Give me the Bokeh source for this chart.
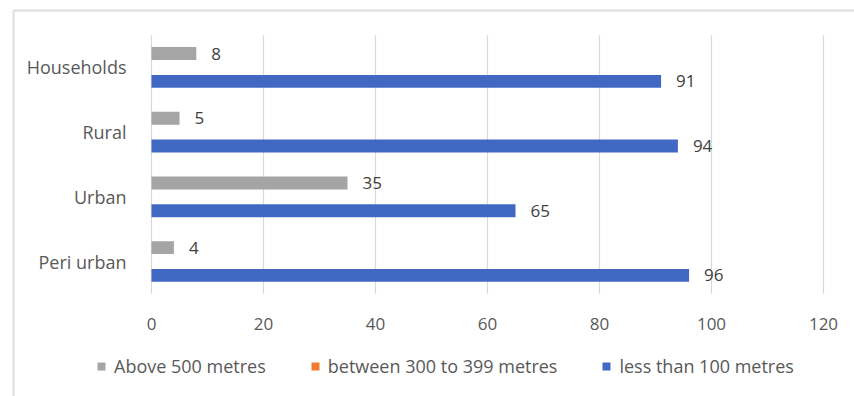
from bokeh.plotting import figure
from bokeh.models import ColumnDataSource, Range1d, Legend, LegendItem
from bokeh.core.properties import value
from bokeh.embed import file_html
from bokeh.resources import INLINE

# Distance to water source by area type (%)
categories = ["Households", "Rural", "Urban", "Peri urban"]
above_500 = [8, 5, 35, 4]
between_300_399 = [0, 0, 0, 0]
less_than_100 = [91, 94, 65, 96]
series_names = ["Above 500 metres", "between 300 to 399 metres", "less than 100 metres"]
x_ticks = [0, 20, 40, 60, 80, 100, 120]

colors = ["#A5A5A5", "#ED7D31", "#4169C4"]
FONT = "Open Sans"
TEXT = "#595959"
W, H = 854, 396

# Layout of the plotting area on the canvas (pixels)
X_ZERO_PX, X_MAX_PX, X_MAX = 151, 823, 120
PX_PER_X = (X_MAX_PX - X_ZERO_PX) / X_MAX
ROW_PX = 64.67               # height of one category band
BOTTOM_ROW_CENTER_PX = 261   # centre of the lowest category band


def xd(px):
    return (px - X_ZERO_PX) / PX_PER_X


def yd(py):
    return (BOTTOM_ROW_CENTER_PX - py) / ROW_PX


# categories listed top to bottom -> band index counts up from the bottom
pos = [len(categories) - 1 - i for i in range(len(categories))]
BAR_OFF = 0.215
BAR_H = 0.2

src = ColumnDataSource(dict(
    cat=categories, pos=pos,
    a=above_500, b=between_300_399, c=less_than_100,
    a_y=[v + BAR_OFF for v in pos],
    b_y=pos,
    c_y=[v - BAR_OFF for v in pos],
    a_lbl=[str(v) for v in above_500],
    c_lbl=[str(v) for v in less_than_100],
))

p = figure(
    width=W, height=H,
    x_range=Range1d(xd(0), xd(W)), y_range=Range1d(yd(H), yd(0)),
    x_axis_location=None, y_axis_location=None,
    output_backend="svg", toolbar_location=None,
    min_border=0,
)
p.grid.visible = False
p.outline_line_color = None
p.background_fill_color = "white"
p.border_fill_color = "white"

# chart-area frame (top and left edges)
p.segment(x0=[xd(13), xd(13)], y0=[yd(10), yd(10)], x1=[xd(13), xd(W + 5)], y1=[yd(H + 5), yd(10)],
          line_color="#dedede", line_width=2)

# vertical gridlines across the category bands
lo, hi = -0.5, len(categories) - 0.5
p.segment(x0=x_ticks, x1=x_ticks, y0=[lo] * len(x_ticks), y1=[hi] * len(x_ticks),
          line_color="#d9d9d9", line_width=1.2)

# x tick labels
p.text(x=x_ticks, y=[yd(323)] * len(x_ticks), text=[str(t) for t in x_ticks],
       text_align="center", text_baseline="middle",
       text_font=value(FONT), text_font_size="17px", text_color=TEXT)

# category labels
p.text(x=xd(126), y="pos", text="cat", source=src,
       text_align="right", text_baseline="middle",
       text_font=value(FONT), text_font_size="18px", text_color=TEXT)

renderers = []
for f, yf, col in zip(["a", "b", "c"], ["a_y", "b_y", "c_y"], colors):
    r = p.hbar(y=yf, left=0, right=f, height=BAR_H, color=col, line_color=None, source=src)
    renderers.append(r)

# value labels
for f, yf, lbl in [("a", "a_y", "a_lbl"), ("c", "c_y", "c_lbl")]:
    p.text(x=f, y=yf, text=lbl, source=src, x_offset=15,
           text_align="left", text_baseline="middle",
           text_font=value(FONT), text_font_size="17px", text_color="#404040")

legend = Legend(
    items=[LegendItem(label=n, renderers=[r]) for n, r in zip(series_names, renderers)],
    orientation="horizontal", location=(96, 18),
    label_text_font=FONT, label_text_font_size="18px", label_text_color=TEXT,
    glyph_width=10, glyph_height=10, label_standoff=8, spacing=44,
    padding=0, margin=0,
    border_line_color=None, background_fill_alpha=0,
)
p.add_layout(legend)

open("out.html", "w").write(file_html(p, INLINE))
